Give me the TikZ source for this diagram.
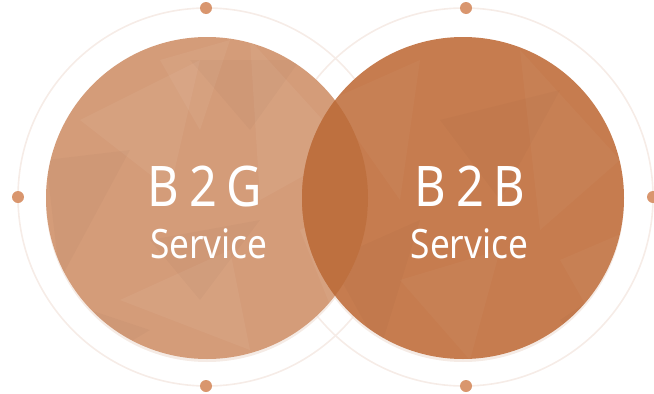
\documentclass[tikz,border=0pt]{standalone}
\usepackage{fontspec}
\setmainfont{Noto Sans}
\definecolor{ringcol}{RGB}{246,236,231}
\definecolor{dotcol}{RGB}{217,150,110}
\definecolor{shadecol}{RGB}{238,222,212}
\definecolor{leftcol}{RGB}{212,156,121}
\definecolor{rightcol}{RGB}{198,124,79}
\definecolor{lenscol}{RGB}{190,112,63}

\begin{document}
\begin{tikzpicture}[x=1pt, y=-1pt,
    ring/.style={draw=ringcol, line width=1.6pt},
    dot/.style={circle, fill=dotcol, inner sep=0pt, minimum size=12pt},
    bubble/.style={circle, inner sep=0pt, minimum size=322pt},
    facet/.style={fill=white, fill opacity=0.05},
    darkfacet/.style={fill=black, fill opacity=0.02},
    title/.style={text=white, anchor=base, xscale=0.87, font=\fontsize{56}{56}\selectfont},
    subtitle/.style={text=white, anchor=base, xscale=0.87, font=\fontsize{40.5}{40.5}\selectfont}]
    \useasboundingbox (0,0) rectangle (654,394);

    % outer rings
    \draw[ring] (207,197) circle (189pt);
    \draw[ring] (464,197) circle (189pt);

    \node (dtl)[dot] at (206,8) {};
    \node (dbl)[dot] at (206,386) {};
    \node (dl)[dot] at (18,197) {};
    \node (dtr)[dot] at (466,8) {};
    \node (dbr)[dot] at (466,386) {};
    \node (dr)[dot] at (653,197) {};

    % soft shadow
    \fill[shadecol, opacity=0.6] (207,201) circle (161pt);
    \fill[shadecol, opacity=0.6] (463,201) circle (161pt);

    % the two bubbles
    \node (lb)[bubble, fill=leftcol] at (207,198) {};
    \node (rb)[bubble, fill=rightcol] at (463,198) {};

    % low poly facets
    \begin{scope}
        \clip (207,198) circle (161pt);
        \foreach \ax/\ay/\bx/\by/\cx/\cy in {80/120/200/60/170/190, 250/40/350/150/260/200,
                120/300/230/250/250/350, 300/230/370/200/340/330, 160/60/230/40/200/130}
            {\fill[facet] (\ax,\ay) -- (\bx,\by) -- (\cx,\cy) -- cycle;}
        \foreach \ax/\ay/\bx/\by/\cx/\cy in {46/160/130/150/60/280, 190/60/300/60/250/130,
                150/240/260/220/200/300, 60/300/150/330/100/360}
            {\fill[darkfacet] (\ax,\ay) -- (\bx,\by) -- (\cx,\cy) -- cycle;}
    \end{scope}
    \begin{scope}
        \clip (463,198) circle (161pt);
        \foreach \ax/\ay/\bx/\by/\cx/\cy in {330/100/420/60/400/200, 520/50/620/160/540/230,
                400/280/500/250/470/360, 560/260/630/230/600/330}
            {\fill[facet, fill opacity=0.03] (\ax,\ay) -- (\bx,\by) -- (\cx,\cy) -- cycle;}
        \foreach \ax/\ay/\bx/\by/\cx/\cy in {440/120/560/90/500/200, 330/260/420/220/380/350,
                560/320/620/280/600/360}
            {\fill[darkfacet] (\ax,\ay) -- (\bx,\by) -- (\cx,\cy) -- cycle;}
    \end{scope}

    % overlap
    \begin{scope}
        \clip (207,198) circle (161pt);
        \fill[lenscol] (463,198) circle (161pt);
    \end{scope}

    % labels
    \node (lt)[title] at (205,206) {B\kern11pt2\kern11ptG};
    \node (ls)[subtitle] at (209,258) {Service};
    \node (rt)[title] at (470,206) {B\kern11pt2\kern11ptB};
    \node (rs)[subtitle] at (469.5,258) {Service};
\end{tikzpicture}
\end{document}
